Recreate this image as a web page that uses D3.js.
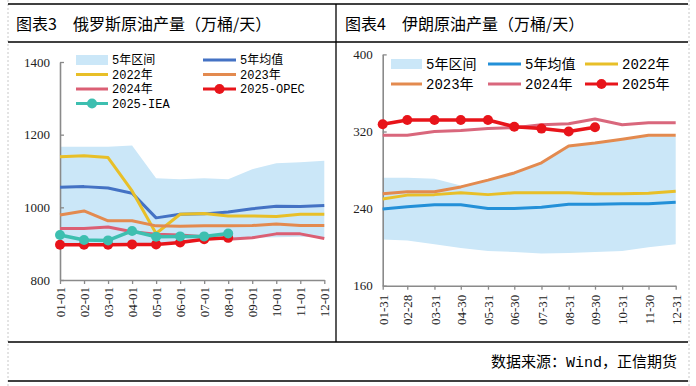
<!DOCTYPE html>
<html lang="zh">
<head>
<meta charset="UTF-8" />
<title>俄罗斯、伊朗原油产量</title>
<script src="https://d3js.org/d3.v7.min.js"></script>
<style>
  body { margin: 0; background: #fff; }
  svg text { font-family: "Noto Sans CJK SC", sans-serif; }
  .tick text { font-family: "Liberation Serif", serif; font-size: 13px; fill: #222; }
  .leg text, .src { font-family: "Liberation Mono", "Noto Sans CJK SC", monospace; }
</style>
</head>
<body>
<div id="chart"></div>
<script>
// 图表3 俄罗斯原油产量（万桶/天）
const ruMonths = ["01-01","02-01","03-01","04-01","05-01","06-01","07-01","08-01","09-01","10-01","11-01","12-01"];
const ruBandLow  = [900, 898, 898, 900, 900, 904, 910, 914, 916, 918, 919, 918];
const ruBandHigh = [1167, 1167, 1167, 1170, 1080, 1077, 1080, 1077, 1105, 1121, 1124, 1128];
const ruAvg  = [1055, 1057, 1053, 1039, 971, 981, 982, 987, 996, 1003, 1002, 1005];
const ru2022 = [1139, 1142, 1137, 1045, 928, 981, 983, 976, 976, 975, 981, 981];
const ru2023 = [979, 990, 963, 963, 949, 948, 949, 949, 950, 954, 950, 950];
const ru2024 = [942, 942, 946, 933, 926, 924, 919, 912, 916, 927, 927, 914];
const ruOpec = [897, 897, 897, 898, 898, 903, 912, 916];
const ruIea  = [924, 910, 909, 935, 919, 920, 920, 928];
const ruTicks = [800, 1000, 1200, 1400];

// 图表4 伊朗原油产量（万桶/天）
const irDates = ["01-31","02-28","03-31","04-30","05-31","06-30","07-31","08-31","09-30","10-31","11-30","12-31"];
const irBandLow  = [208, 207, 203, 199, 196, 195, 193.5, 194, 195, 196, 200, 203];
const irBandHigh = [272, 272, 271, 264, 269.5, 277, 287, 304, 307.5, 311, 315, 315];
const irAvg  = [239.5, 242, 244, 244, 240, 240, 241.5, 244.5, 244.5, 245, 245, 246.5];
const ir2022 = [250, 254, 254.5, 256.5, 254.5, 256.5, 256.5, 256.5, 255.5, 255.5, 256, 258];
const ir2023 = [255.5, 257.5, 257.5, 262.5, 269.5, 277, 287.5, 305, 308, 312, 316, 316];
const ir2024 = [316, 316, 320, 321, 323, 324, 327, 328, 333, 327, 329, 329];
const ir2025 = [327.5, 332, 332, 332, 332, 325, 323, 320, 324.5];
const irTicks = [160, 240, 320, 400];

const W = 696, H = 386;
const svg = d3.select("#chart").append("svg")
  .attr("width", W).attr("height", H);

// 表格框线
svg.append("line").attr("x1", 8).attr("x2", 8).attr("y1", 0).attr("y2", H)
  .attr("stroke", "#c8c8c8").attr("stroke-dasharray", "2,2");
svg.append("line").attr("x1", 689).attr("x2", 689).attr("y1", 0).attr("y2", H)
  .attr("stroke", "#c8c8c8").attr("stroke-dasharray", "2,2");
[4, 42, 342, 381].forEach(yy => {
  svg.append("line").attr("x1", 8).attr("x2", 688).attr("y1", yy).attr("y2", yy)
    .attr("stroke", "#000").attr("stroke-width", 1.3);
});
svg.append("line").attr("x1", 336).attr("x2", 336).attr("y1", 4).attr("y2", 342)
  .attr("stroke", "#000").attr("stroke-width", 1.3);

// 标题
svg.append("text").attr("x", 16).attr("y", 30).style("font-size", "16px")
  .text("图表3\u3000俄罗斯原油产量（万桶/天）");
svg.append("text").attr("x", 345).attr("y", 30).style("font-size", "16px")
  .text("图表4\u3000伊朗原油产量（万桶/天）");
svg.append("text").attr("class", "src").attr("x", 677).attr("y", 367).attr("text-anchor", "end")
  .style("font-size", "15px").text("数据来源：Wind，正信期货");

const BAND = "#cbe7f8";

function axes(g, x, y, yTicks, x0, y0, xTicks, xFmt, labelOff) {
  const ya = g.append("g").attr("transform", `translate(${x0},0)`)
    .call(d3.axisLeft(y).tickValues(yTicks).tickFormat(d3.format("d"))
      .tickSizeInner(-4).tickSizeOuter(0).tickPadding(10));
  const xa = g.append("g").attr("transform", `translate(0,${y0})`)
    .call(d3.axisBottom(x).tickValues(xTicks).tickSizeInner(4).tickSizeOuter(0).tickFormat(xFmt));
  xa.selectAll(".tick text")
    .attr("transform", "rotate(-90)")
    .attr("x", -labelOff).attr("y", 0).attr("dy", "0.35em")
    .style("text-anchor", "end");
  [ya, xa].forEach(a => {
    a.select(".domain").attr("stroke", "#8a8a8a").attr("stroke-width", 1.6);
    a.selectAll(".tick line").attr("stroke", "#8a8a8a").attr("stroke-width", 1.3);
  });
}

function band(g, xs, x, y, lo, hi) {
  const area = d3.area().x((d, i) => x(xs[i])).y0(d => y(d[0])).y1(d => y(d[1]));
  g.append("path").datum(lo.map((v, i) => [v, hi[i]]))
    .attr("d", area).attr("fill", BAND);
}

function series(g, xs, x, y, vals, color, width, marker) {
  const line = d3.line().x((d, i) => x(xs[i])).y(d => y(d));
  g.append("path").datum(vals).attr("d", line)
    .attr("fill", "none").attr("stroke", color).attr("stroke-width", width)
    .attr("stroke-linejoin", "round");
  if (marker) {
    g.selectAll(null).data(vals).join("circle")
      .attr("cx", (d, i) => x(xs[i])).attr("cy", d => y(d))
      .attr("r", 5).attr("fill", color);
  }
}

function legend(g, items) {
  const lg = g.append("g").attr("class", "leg");
  items.forEach(it => {
    if (it.type === "band") {
      lg.append("rect").attr("x", it.x).attr("y", it.y - 5).attr("width", it.w).attr("height", 10)
        .attr("fill", BAND);
    } else {
      lg.append("line").attr("x1", it.x).attr("x2", it.x + it.w).attr("y1", it.y).attr("y2", it.y)
        .attr("stroke", it.color).attr("stroke-width", 3);
      if (it.type === "marker")
        lg.append("circle").attr("cx", it.x + it.w / 2).attr("cy", it.y).attr("r", 5).attr("fill", it.color);
    }
    lg.append("text").attr("x", it.x + it.w + 4).attr("y", it.y).attr("dy", "0.36em")
      .style("font-size", it.size || "12px").text(it.label);
  });
}

// ---------- 俄罗斯 ----------
{
  const g = svg.append("g");
  const x = d3.scalePoint().domain(ruMonths).range([60, 324.3]);
  const y = d3.scaleLinear().domain([800, 1400]).range([280, 62]);
  band(g, ruMonths, x, y, ruBandLow, ruBandHigh);
  axes(g, x, y, ruTicks, 60, 280, ruMonths, d => d, 7);
  series(g, ruMonths, x, y, ruAvg, "#4472c4", 3);
  series(g, ruMonths, x, y, ru2022, "#e8bf28", 3);
  series(g, ruMonths, x, y, ru2023, "#e38a4f", 3);
  series(g, ruMonths, x, y, ru2024, "#db5f74", 3);
  series(g, ruMonths, x, y, ruOpec, "#e8141a", 3.5, true);
  series(g, ruMonths, x, y, ruIea, "#3dbfb0", 3.5, true);
  legend(g, [
    { type: "band", x: 76, y: 60, w: 32, label: "5年区间" },
    { type: "line", x: 203, y: 60, w: 33, color: "#4472c4", label: "5年均值" },
    { type: "line", x: 76, y: 74.5, w: 32, color: "#e8bf28", label: "2022年" },
    { type: "line", x: 203, y: 74.5, w: 33, color: "#e38a4f", label: "2023年" },
    { type: "line", x: 76, y: 89, w: 32, color: "#db5f74", label: "2024年" },
    { type: "marker", x: 203, y: 89, w: 33, color: "#e8141a", label: "2025-OPEC" },
    { type: "marker", x: 76, y: 103.5, w: 32, color: "#3dbfb0", label: "2025-IEA" }
  ]);
}

// ---------- 伊朗 ----------
{
  const g = svg.append("g");
  const parse = d3.timeParse("%Y-%m-%d");
  const dates = irDates.map(s => parse("2025-" + s));
  const x = d3.scaleTime().domain([dates[0], dates[dates.length - 1]]).range([382.7, 675.7]);
  const y = d3.scaleLinear().domain([160, 400]).range([285.7, 54.4]);
  band(g, dates, x, y, irBandLow, irBandHigh);
  axes(g, x, y, irTicks, 382.7, 285.7, dates, d3.timeFormat("%m-%d"), 9);
  series(g, dates, x, y, irAvg, "#2390d8", 3);
  series(g, dates, x, y, ir2022, "#e8bf28", 3);
  series(g, dates, x, y, ir2023, "#e38a4f", 3);
  series(g, dates, x, y, ir2024, "#d9677c", 3);
  series(g, dates, x, y, ir2025, "#e8141a", 3.5, true);
  legend(g, [
    { type: "band", x: 391, y: 64, w: 31, label: "5年区间", size: "14px" },
    { type: "line", x: 488, y: 64, w: 33, color: "#2390d8", label: "5年均值", size: "14px" },
    { type: "line", x: 585, y: 64, w: 33, color: "#e8bf28", label: "2022年", size: "14px" },
    { type: "line", x: 391, y: 84, w: 31, color: "#e38a4f", label: "2023年", size: "14px" },
    { type: "line", x: 488, y: 84, w: 33, color: "#d9677c", label: "2024年", size: "14px" },
    { type: "marker", x: 585, y: 84, w: 33, color: "#e8141a", label: "2025年", size: "14px" }
  ]);
}
</script>
</body>
</html>
